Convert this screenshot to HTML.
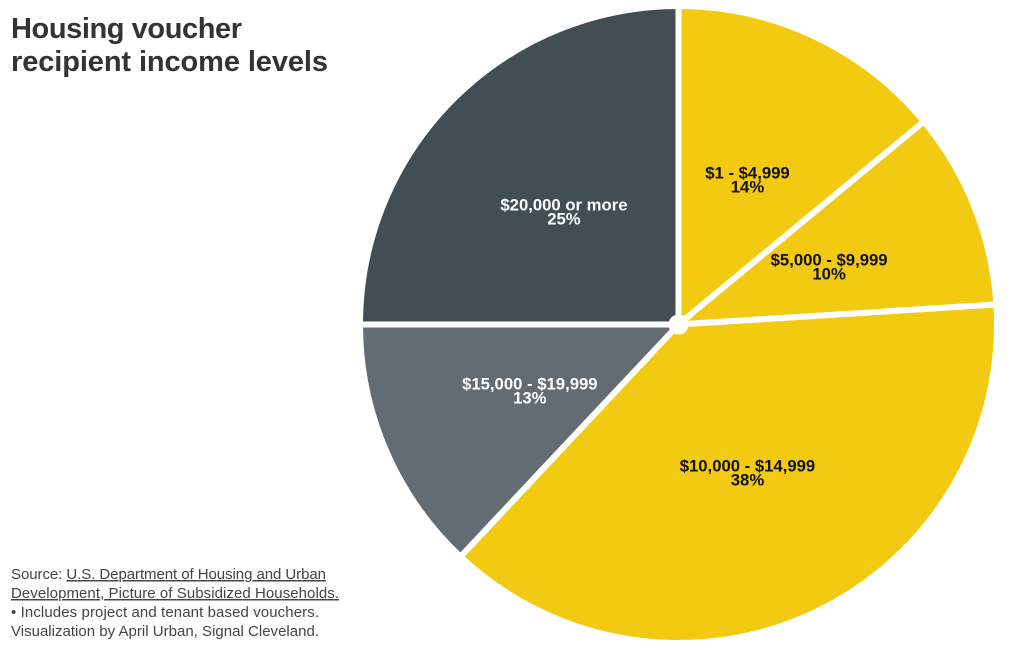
<!DOCTYPE html>
<html lang="en">
<head>
<meta charset="utf-8">
<title>Housing voucher recipient income levels</title>
<style>
html,body{margin:0;padding:0;background:#fff;width:1020px;height:650px;overflow:hidden}
svg{display:block;font-family:"Liberation Sans",sans-serif}
.title{font-size:29px;font-weight:700;fill:#333}
.note{font-size:15px;fill:#444}
.link{text-decoration:underline}
.label{font-size:16.7px;font-weight:700;text-anchor:middle}
</style>
</head>
<body>
<svg id="chart" width="1020" height="650" viewBox="0 0 1020 650" xmlns="http://www.w3.org/2000/svg">
  <g>
    <text class="title" x="11" y="38" textLength="231">Housing voucher</text>
    <text class="title" x="11" y="71" textLength="317">recipient income levels</text>
  </g>
  <g id="slices"></g>
  <circle cx="678.5" cy="324.5" r="10" fill="#fff"></circle>
  <g id="labels"></g>
  <g>
    <text class="note" x="11" y="579" textLength="315">Source: <tspan class="link">U.S. Department of Housing and Urban</tspan></text>
    <text class="note" x="11" y="598" textLength="328"><tspan class="link">Development, Picture of Subsidized Households.</tspan></text>
    <text class="note" x="11" y="617" textLength="308">• Includes project and tenant based vouchers.</text>
    <text class="note" x="11" y="636" textLength="308">Visualization by April Urban, Signal Cleveland.</text>
  </g>
</svg>
<script>
const categories = ["$1 - $4,999", "$5,000 - $9,999", "$10,000 - $14,999", "$15,000 - $19,999", "$20,000 or more"];
const shares = [14, 10, 38, 13, 25];
const sliceColors = ["#f3ca12", "#f3ca12", "#f3ca12", "#646c73", "#414e53"];
const labelColors = ["#111", "#111", "#111", "#fff", "#fff"];

const NS = "http://www.w3.org/2000/svg";
const cx = 678.5, cy = 324.5, radius = 318.5;
const labelRadius = 162;
const total = shares.reduce(function (a, b) { return a + b; }, 0);

function angleOf(value) { return value / total * Math.PI * 2; }
function px(angle, r) { return cx + Math.sin(angle) * r; }
function py(angle, r) { return cy - Math.cos(angle) * r; }

const sliceGroup = document.getElementById("slices");
const labelGroup = document.getElementById("labels");
let running = 0;
shares.forEach(function (value, i) {
  const a0 = angleOf(running);
  const a1 = angleOf(running + value);
  const mid = (a0 + a1) / 2;
  running += value;

  const path = document.createElementNS(NS, "path");
  const large = a1 - a0 > Math.PI ? 1 : 0;
  path.setAttribute("d", "M" + cx + " " + cy + "L" + px(a0, radius) + " " + py(a0, radius) +
    "A" + radius + " " + radius + " 0 " + large + " 1 " + px(a1, radius) + " " + py(a1, radius) + "Z");
  path.setAttribute("fill", sliceColors[i]);
  path.setAttribute("stroke", "#fff");
  path.setAttribute("stroke-width", "6");
  path.setAttribute("stroke-linejoin", "round");
  
  
  sliceGroup.appendChild(path);

  const lx = px(mid, labelRadius);
  const ly = py(mid, labelRadius);
  const name = document.createElementNS(NS, "text");
  name.setAttribute("class", "label");
  name.setAttribute("x", lx);
  name.setAttribute("y", ly + 0.5);
  name.setAttribute("fill", labelColors[i]);
  name.textContent = categories[i];
  
  
  labelGroup.appendChild(name);

  const pct = document.createElementNS(NS, "text");
  pct.setAttribute("class", "label");
  pct.setAttribute("x", lx);
  pct.setAttribute("y", ly + 14.5);
  pct.setAttribute("fill", labelColors[i]);
  pct.textContent = value + "%";
  
  
  labelGroup.appendChild(pct);
});
</script>
</body>
</html>
